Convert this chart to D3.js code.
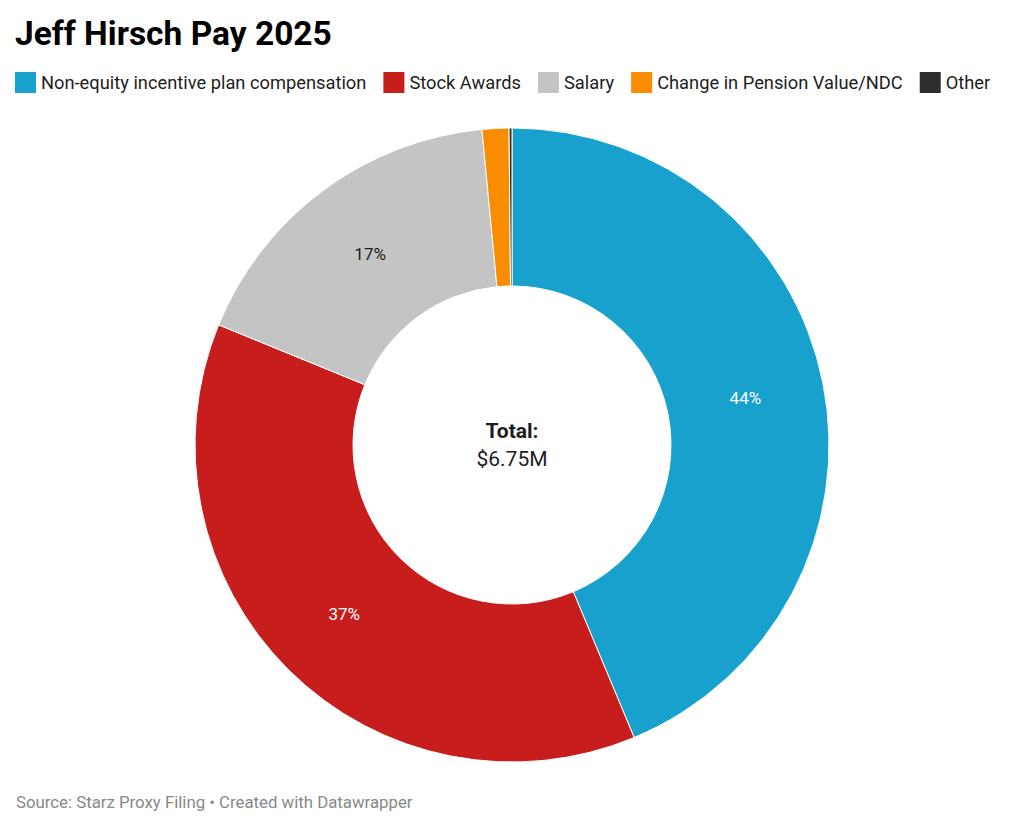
<!DOCTYPE html>
<html>
<head>
<meta charset="utf-8">
<script src="https://cdn.jsdelivr.net/npm/d3@7"></script>
<style>
  body { margin: 0; background: #fff; font-family: Roboto, "Noto Sans", sans-serif; }
  svg text { font-family: Roboto, "Noto Sans", sans-serif; }
</style>
</head>
<body>
<svg id="chart" width="1024" height="829"></svg>
<script>
// values in $M (total $6.75M)
const categories = ['Non-equity incentive plan compensation', 'Stock Awards', 'Salary', 'Change in Pension Value/NDC', 'Other']
const values = [2.95, 2.53, 1.168, 0.092, 0.01]
const colors = ['#18a1cd', '#c71e1d', '#c4c4c4', '#fa8c00', '#2d2d2d']
const labelColors = ['#ffffff', '#ffffff', '#1d1d1d', '#1d1d1d', '#ffffff']
const totalLabel = '$6.75M'

const svg = d3.select('#chart')

svg.append('text')
  .attr('x', 15)
  .attr('y', 45)
  .style('font-size', '33.5px')
  .style('font-weight', 700)
  .style('fill', '#000')
  .text('Jeff Hirsch Pay 2025')

// legend, laid out left to right
const legend = svg.append('g').attr('class', 'legend')
let lx = 15
categories.forEach((name, i) => {
  const item = legend.append('g').attr('transform', `translate(${lx}, 72)`)
  item.append('rect')
    .attr('width', 21)
    .attr('height', 21)
    .attr('fill', colors[i])
  const t = item.append('text')
    .attr('x', 26)
    .attr('y', 17)
    .style('font-size', '18.3px')
    .style('fill', '#1d1d1d')
    .text(name)
  lx += 26 + t.node().getComputedTextLength() + 17
})

const cx = 512
const cy = 445
const outer = 317
const inner = 159

const pie = d3.pie().sort(null).value(d => d)
const arcs = pie(values)
const arc = d3.arc().innerRadius(inner).outerRadius(outer)
const labelArc = d3.arc().innerRadius((inner + outer) / 2).outerRadius((inner + outer) / 2)
const total = d3.sum(values)

const g = svg.append('g').attr('transform', `translate(${cx}, ${cy})`)

g.selectAll('path')
  .data(arcs)
  .enter()
  .append('path')
  .attr('d', arc)
  .attr('fill', (d, i) => colors[i])
  .attr('stroke', '#fff')
  .attr('stroke-width', 1)

g.selectAll('text.pct')
  .data(arcs.filter(d => d.value / total > 0.05))
  .enter()
  .append('text')
  .attr('class', 'pct')
  .attr('transform', d => `translate(${labelArc.centroid(d)})`)
  .attr('text-anchor', 'middle')
  .attr('dy', '0.35em')
  .style('font-size', '17px')
  .style('fill', d => labelColors[d.index])
  .text(d => `${Math.round(d.value / total * 100)}%`)

g.append('text')
  .attr('text-anchor', 'middle')
  .attr('y', -7)
  .style('font-size', '21px')
  .style('font-weight', 700)
  .style('fill', '#1d1d1d')
  .text('Total:')

g.append('text')
  .attr('text-anchor', 'middle')
  .attr('y', 21)
  .style('font-size', '21px')
  .style('fill', '#1d1d1d')
  .text(totalLabel)

svg.append('text')
  .attr('x', 16)
  .attr('y', 808)
  .style('font-size', '16.8px')
  .style('fill', '#888888')
  .text('Source: Starz Proxy Filing • Created with Datawrapper')
</script>
</body>
</html>
